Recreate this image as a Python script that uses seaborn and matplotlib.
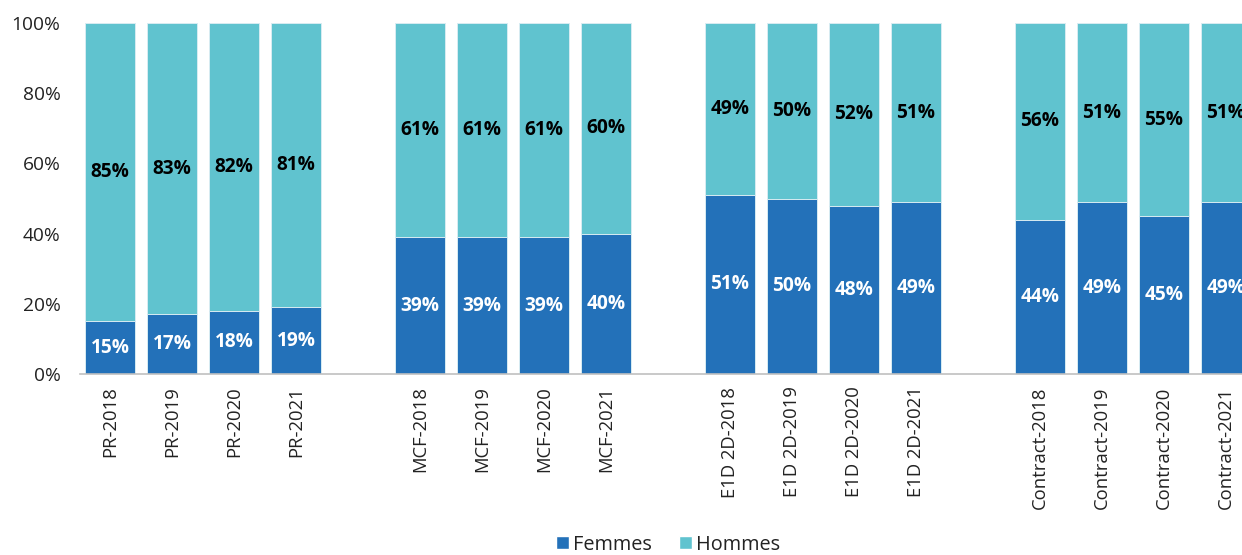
import matplotlib
matplotlib.use("Agg")
import matplotlib.pyplot as plt
import numpy as np
import pandas as pd
import seaborn as sns
from matplotlib.patches import Patch

# Staff categories by year
categories = [
    "PR-2018", "PR-2019", "PR-2020", "PR-2021",
    "MCF-2018", "MCF-2019", "MCF-2020", "MCF-2021",
    "E1D 2D-2018", "E1D 2D-2019", "E1D 2D-2020", "E1D 2D-2021",
    "Contract-2018", "Contract-2019", "Contract-2020", "Contract-2021",
]
# Share of women / men (%)
femmes = [15, 17, 18, 19, 39, 39, 39, 40, 51, 50, 48, 49, 44, 49, 45, 49]
hommes = [85, 83, 82, 81, 61, 61, 61, 60, 49, 50, 52, 51, 56, 51, 55, 51]
series_names = ["Femmes", "Hommes"]
y_ticks = [0, 20, 40, 60, 80, 100]

COL_F = "#2371b9"
COL_H = "#60c3cf"
TEXT = "#222222"

sns.set_style("white")
plt.rcParams["font.family"] = ["Open Sans", "DejaVu Sans"]

# four bars per group, one empty slot between groups
group_size = 4
pos = [i + i // group_size for i in range(len(categories))]

df = pd.DataFrame({
    "pos": pos,
    "categorie": categories,
    "femmes": femmes,
    "hommes": hommes,
})
df["total"] = df["femmes"] + df["hommes"]

fig = plt.figure(figsize=(12.42, 5.55), dpi=100)
ax = fig.add_axes([80 / 1242, 181 / 555, (1256 - 80) / 1242, (532 - 181) / 555])

bar_kw = dict(native_scale=True, width=0.82, saturation=1, errorbar=None,
              edgecolor="#d8ecf2", linewidth=0.7, ax=ax)
sns.barplot(data=df, x="pos", y="total", color=COL_H, **bar_kw)
sns.barplot(data=df, x="pos", y="femmes", color=COL_F, **bar_kw)

for p, f, h in zip(df["pos"], df["femmes"], df["hommes"]):
    ax.text(p, f / 2, f"{f}%", ha="center", va="center", color="white",
            fontsize=13.8, fontweight="bold")
    ax.text(p, f + h / 2, f"{h}%", ha="center", va="center", color="black",
            fontsize=13.8, fontweight="bold")

ax.set_xlim(-0.484, pos[-1] + 0.484)
ax.set_ylim(0, 100)
ax.set_xticks(pos)
ax.set_xticklabels(categories, rotation=90, fontsize=13.3, color=TEXT)
ax.set_yticks(y_ticks)
ax.set_yticklabels([f"{t}%" for t in y_ticks], fontsize=13.8, color=TEXT)
ax.tick_params(axis="both", length=0)
ax.tick_params(axis="y", pad=14)
ax.tick_params(axis="x", pad=9)
ax.set_xlabel("")
ax.set_ylabel("")
for side in ["left", "right", "top"]:
    ax.spines[side].set_visible(False)
ax.spines["bottom"].set_color("#c0c0c0")
ax.spines["bottom"].set_linewidth(1.2)

handles = [Patch(facecolor=COL_F, label=series_names[0]),
           Patch(facecolor=COL_H, label=series_names[1])]
fig.legend(handles=handles, loc="lower center", bbox_to_anchor=(668 / 1242, -0.032),
           ncol=2, frameon=False, fontsize=14.3, handlelength=0.62, handleheight=0.62,
           handletextpad=0.2, columnspacing=1.4, labelcolor=TEXT)

fig.savefig("out.png", dpi=100)
